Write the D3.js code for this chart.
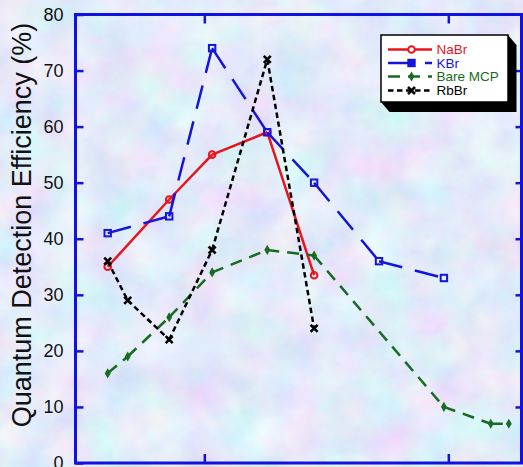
<!DOCTYPE html>
<html>
<head>
<meta charset="utf-8">
<script src="https://cdn.jsdelivr.net/npm/d3@7/dist/d3.min.js"></script>
<style>
  html, body { margin: 0; padding: 0; background: #c9d8f4; }
  svg { display: block; }
  text { font-family: "Liberation Sans", Arial, sans-serif; }
</style>
</head>
<body>
<script>
// Photon positions along the (unlabelled) horizontal axis
const xKBr  = [302, 428, 516, 629, 725, 858, 991];
const xNaBr = [302, 428, 516, 629, 725];
const xBare = [302, 343, 428, 516, 629, 725, 991, 1087, 1124];
const xRbBr = [302, 343, 428, 516, 629, 725];

// Quantum detection efficiency (%)
const yKBr  = [41, 44, 74, 59, 50, 36, 33];
const yNaBr = [35, 47, 55, 59, 33.5];
const yBare = [16, 19, 26, 34, 38, 37, 10, 7, 7];
const yRbBr = [36, 29, 22, 38, 72, 24];

const seriesNames = ["NaBr", "KBr", "Bare MCP", "RbBr"];
const yTicks = [0, 10, 20, 30, 40, 50, 60, 70, 80];
const xTicks = [500, 1000];
const yTitle = "Quantum Detection Efficiency (%)";

const W = 523, H = 467;
const svg = d3.select("body").append("svg").attr("width", W).attr("height", H);

// Mottled pastel paper background
const defs = svg.append("defs");
const f = defs.append("filter").attr("id", "paper")
  .attr("x", 0).attr("y", 0).attr("width", "100%").attr("height", "100%");
f.append("feTurbulence").attr("type", "fractalNoise")
  .attr("baseFrequency", "0.022").attr("numOctaves", 5).attr("seed", 11).attr("result", "n");
f.append("feColorMatrix").attr("in", "n").attr("type", "matrix")
  .attr("values", "0.42 0 0 0 0.56  0 0.36 0 0 0.65  0 0 0.14 0 0.88  0 0 0 0 1");
svg.append("rect").attr("width", W).attr("height", H).attr("fill", "#c9d8f4");
svg.append("rect").attr("width", W).attr("height", H).attr("filter", "url(#paper)");

const x = d3.scaleLinear().domain([236, 1150]).range([75.5, 521.5]);
const y = d3.scaleLinear().domain([0, 80]).range([463, 14.5]);

const axisBlue = "#1212e0";

// Frame with inward ticks on all four sides
const frame = svg.append("g");
frame.append("g").attr("transform", `translate(${x.range()[0]},0)`)
  .call(d3.axisRight(y).tickValues(yTicks).tickSize(8).tickFormat(""));
frame.append("g").attr("transform", `translate(${x.range()[1]},0)`)
  .call(d3.axisLeft(y).tickValues(yTicks.slice(1, -1)).tickSize(6).tickFormat(""));
frame.append("g").attr("transform", `translate(0,${y.range()[0]})`)
  .call(d3.axisTop(x).tickValues(xTicks).tickSize(9).tickFormat(""));
frame.append("g").attr("transform", `translate(0,${y.range()[1]})`)
  .call(d3.axisBottom(x).tickValues(xTicks).tickSize(9).tickFormat(""));
frame.selectAll(".domain").remove();
frame.selectAll(".tick line").attr("stroke", axisBlue).attr("stroke-width", 2.5);
frame.append("rect")
  .attr("x", x.range()[0]).attr("y", y.range()[1])
  .attr("width", x.range()[1] - x.range()[0]).attr("height", y.range()[0] - y.range()[1])
  .attr("fill", "none").attr("stroke", axisBlue).attr("stroke-width", 3);

// Y tick labels
const yLab = svg.append("g").attr("transform", `translate(63.5,0)`)
  .call(d3.axisLeft(y).tickValues(yTicks).tickSize(0).tickPadding(0));
yLab.select(".domain").remove();
yLab.selectAll("text").attr("font-size", 18).attr("fill", "#111")
  .attr("font-family", "Liberation Sans, Arial, sans-serif");

svg.append("text")
  .attr("transform", `translate(31,225) rotate(-90)`)
  .attr("text-anchor", "middle").attr("font-size", 27).attr("fill", "#111")
  .text(yTitle);

const colors = { red: "#e8141c", blue: "#1414dc", green: "#176b22", black: "#000" };

const series = [
  { name: seriesNames[0], xs: xNaBr, ys: yNaBr, color: colors.red,   dash: null,    marker: "circle" },
  { name: seriesNames[1], xs: xKBr,  ys: yKBr,  color: colors.blue,  dash: "24,13", marker: "square" },
  { name: seriesNames[2], xs: xBare, ys: yBare, color: colors.green, dash: "12,8",  marker: "diamond" },
  { name: seriesNames[3], xs: xRbBr, ys: yRbBr, color: colors.black, dash: "5.5,3.5", marker: "cross" }
];

function drawMarker(g, type, cx, cy, color, legend) {
  if (type === "circle") {
    g.append("circle").attr("cx", cx).attr("cy", cy).attr("r", 3.3)
      .attr("fill", legend ? "#fff" : "none").attr("stroke", color).attr("stroke-width", 2);
  } else if (type === "square") {
    g.append("rect").attr("x", cx - 3.2).attr("y", cy - 3.2).attr("width", 6.4).attr("height", 6.4)
      .attr("fill", legend ? color : "none").attr("stroke", color).attr("stroke-width", 2);
  } else if (type === "diamond") {
    g.append("path").attr("transform", `translate(${cx},${cy})`)
      .attr("d", d3.symbol(d3.symbolDiamond, 30)()).attr("fill", color);
  } else {
    g.append("path").attr("transform", `translate(${cx},${cy})`)
      .attr("d", "M-3.5,-3.5L3.5,3.5M-3.5,3.5L3.5,-3.5")
      .attr("stroke", color).attr("stroke-width", 2.6).attr("fill", "none");
  }
}

// Lines drawn segment by segment so each dash pattern restarts at a data point
const plot = svg.append("g");
series.forEach(s => {
  const g = plot.append("g");
  for (let i = 0; i < s.xs.length - 1; i++) {
    g.append("line")
      .attr("x1", x(s.xs[i])).attr("y1", y(s.ys[i]))
      .attr("x2", x(s.xs[i + 1])).attr("y2", y(s.ys[i + 1]))
      .attr("stroke", s.color).attr("stroke-width", 2.5)
      .attr("stroke-dasharray", s.dash);
  }
  s.xs.forEach((xv, i) => drawMarker(g, s.marker, x(xv), y(s.ys[i]), s.color, false));
});

// Legend with bevelled shadow
const L = { x0: 381, y0: 35, x1: 508, y1: 102, dx: 8.5, dy: 10 };
const leg = svg.append("g");
leg.append("polygon")
  .attr("points", [
    [L.x1, L.y0], [L.x1 + L.dx, L.y0 + L.dy], [L.x1 + L.dx, L.y1 + L.dy],
    [L.x0 + L.dx, L.y1 + L.dy], [L.x0, L.y1], [L.x1, L.y1]
  ].map(p => p.join(",")).join(" "))
  .attr("fill", "#000");
leg.append("rect").attr("x", L.x0).attr("y", L.y0)
  .attr("width", L.x1 - L.x0).attr("height", L.y1 - L.y0)
  .attr("fill", "#fff").attr("stroke", "#000").attr("stroke-width", 1.5);

const rowY = [49.5, 63, 76.5, 90.5];
series.forEach((s, i) => {
  const g = leg.append("g");
  g.append("line").attr("x1", 388).attr("x2", 432).attr("y1", rowY[i]).attr("y2", rowY[i])
    .attr("stroke", s.color).attr("stroke-width", 2.3).attr("stroke-dasharray", s.dash);
  drawMarker(g, s.marker, 411.5, rowY[i], s.color, true);
  g.append("text").attr("x", 436.5).attr("y", rowY[i]).attr("dy", "0.36em")
    .attr("font-size", 13.5).attr("fill", s.color).text(s.name);
});
</script>
</body>
</html>
